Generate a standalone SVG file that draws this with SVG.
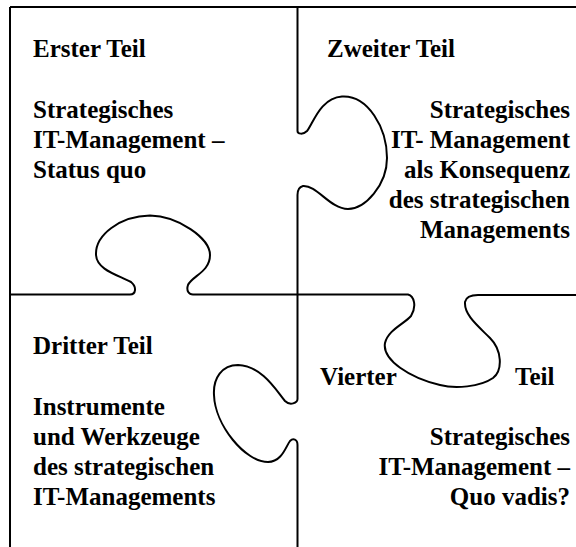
<svg xmlns="http://www.w3.org/2000/svg" width="576" height="547" viewBox="0 0 576 547">
<style>
.ln{fill:none;stroke:#000;stroke-width:2;stroke-linejoin:round;stroke-linecap:butt}
text{font-family:"Liberation Serif","Times New Roman",serif;font-weight:bold;font-size:25px;fill:#000}
.r{text-anchor:end}
</style>
<rect width="576" height="547" fill="#fff"/>
<g id="outline">
<path class="ln" d="M10,7 H576"/>
<path class="ln" d="M10,7 V547"/>
<path class="ln" d="M297.5,7 V131 C297.5,134 303,135 307,131 C313,124 320,98 342,96.5 C368,95 387,128 387,158 C387,185 365,209 348,209 C330,209 317,185 303,186 C299,187 297.5,190 297.5,195 V399 C297.5,403 290,406 285,401 C276,390 262,366 238,365 C222,365 213,378 214,395 C215,425 245,462 268,462 C282,462 286,446 290,441 C293,438 297.5,439 297.5,445 V547"/>
<path class="ln" d="M10,294.5 H130 C136,294.5 137,287 131,282 C118,275 97,270 96,255 C95,235 120,216 150,215.5 C178,216 210,238 210,255 C210,272 192,276 188,285 C186,291 189,294.5 193,294.5 H408 C414,296 417,306 411,316 C404,324 388,330 385,343 C382,360 410,378 440,385 C455,389 480,387 493,378 C503,370 502,350 490,338 C478,326 464,315 465,302 C466,297 470,295 478,295 H576"/>
</g>
<g id="erster-teil">
<text x="33" y="57">Erster Teil</text>
<text x="33" y="118">Strategisches</text>
<text x="33" y="148">IT-Management –</text>
<text x="33" y="178">Status quo</text>
</g>
<g id="zweiter-teil">
<text x="327" y="57">Zweiter Teil</text>
<text class="r" x="570" y="118">Strategisches</text>
<text class="r" x="570" y="148">IT- Management</text>
<text class="r" x="570" y="178">als Konsequenz</text>
<text class="r" x="570" y="208">des strategischen</text>
<text class="r" x="570" y="238">Managements</text>
</g>
<g id="dritter-teil">
<text x="33" y="354">Dritter Teil</text>
<text x="33" y="415">Instrumente</text>
<text x="33" y="445">und Werkzeuge</text>
<text x="33" y="475">des strategischen</text>
<text x="33" y="505">IT-Managements</text>
</g>
<g id="vierter-teil">
<text x="320" y="385">Vierter</text>
<text x="515" y="385">Teil</text>
<text class="r" x="570" y="445">Strategisches</text>
<text class="r" x="570" y="475">IT-Management –</text>
<text class="r" x="570" y="505">Quo vadis?</text>
</g>
</svg>
